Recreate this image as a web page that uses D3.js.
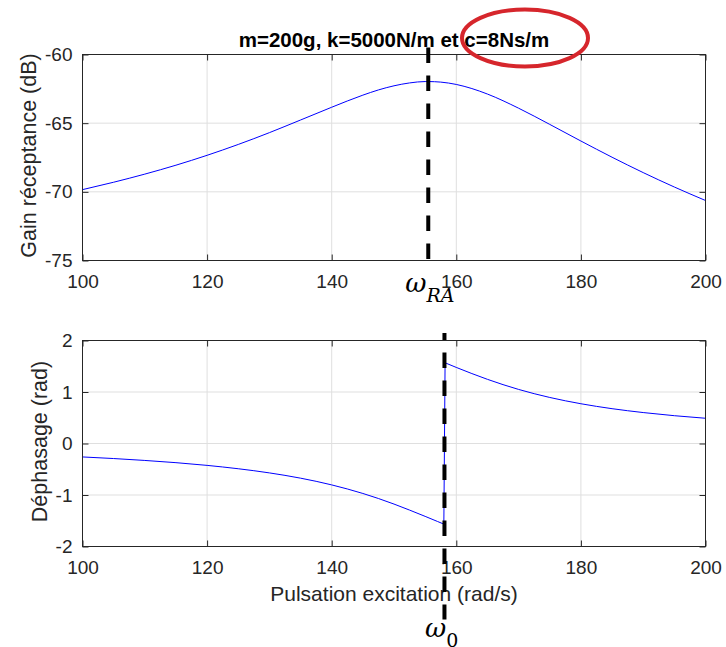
<!DOCTYPE html>
<html>
<head>
<meta charset="utf-8">
<script src="https://cdn.jsdelivr.net/npm/d3@7"></script>
<style>
  body { margin: 0; background: #fff; }
  text { font-family: "Liberation Sans", Arial, Helvetica, sans-serif; fill: #262626; }
  .math { font-family: "DejaVu Serif", "Liberation Serif", serif; fill: #000; }
</style>
</head>
<body>
<div id="figure"></div>
<script>
// valeurs
const pulsationsGain = [100, 105, 110, 115, 120, 125, 130, 135, 140, 145, 147.5, 150, 152.5, 155, 155.5, 157.5, 160, 162.5, 165, 170, 175, 180, 185, 190, 195, 200];
const gainDb = [-69.84, -69.30, -68.71, -68.06, -67.34, -66.55, -65.69, -64.77, -63.84, -62.96, -62.58, -62.28, -62.07, -61.97, -61.97, -62.01, -62.18, -62.48, -62.88, -63.91, -65.09, -66.30, -67.48, -68.60, -69.65, -70.63];

const pulsationsPhase = [100, 105, 110, 115, 120, 125, 130, 135, 140, 145, 150, 152.5, 155, 157, 158, 158.2, 160, 162.5, 165, 170, 175, 180, 185, 190, 195, 200];
const dephasage = [-0.261, -0.292, -0.329, -0.372, -0.425, -0.490, -0.571, -0.673, -0.804, -0.970, -1.176, -1.293, -1.415, -1.515, -1.565, 1.567, 1.477, 1.358, 1.246, 1.050, 0.894, 0.772, 0.676, 0.601, 0.540, 0.490];

const ticksX = [100, 120, 140, 160, 180, 200];
const ticksGain = [-75, -70, -65, -60];
const ticksPhase = [-2, -1, 0, 1, 2];

const omegaRA = 155.5;
const omega0 = 158.1;

const titre = "m=200g, k=5000N/m et c=8Ns/m";

const largeur = 726, hauteur = 647;

const svg = d3.select("#figure").append("svg")
    .attr("width", largeur)
    .attr("height", hauteur);

const x = d3.scaleLinear().domain([100, 200]).range([82.5, 705.5]);
const yGain = d3.scaleLinear().domain([-75, -60]).range([260.5, 54.5]);
const yPhase = d3.scaleLinear().domain([-2, 2]).range([546.5, 340.5]);

const fmt = d => String(d);

function dessinerAxes(y, ticksY) {
    const [bas, haut] = y.range();
    const [gauche, droite] = x.range();
    const g = svg.append("g");

    // grille
    g.append("g").selectAll("line")
        .data(ticksX.slice(1, -1))
        .join("line")
        .attr("x1", d => x(d)).attr("x2", d => x(d))
        .attr("y1", haut).attr("y2", bas)
        .attr("stroke", "#dfdfdf");
    g.append("g").selectAll("line")
        .data(ticksY.slice(1, -1))
        .join("line")
        .attr("x1", gauche).attr("x2", droite)
        .attr("y1", d => y(d)).attr("y2", d => y(d))
        .attr("stroke", "#dfdfdf");
    return g;
}

function finirAxes(y, ticksY) {
    const [bas, haut] = y.range();
    const [gauche, droite] = x.range();
    const g = svg.append("g");

    const axeBas = g.append("g")
        .attr("transform", "translate(0," + bas + ")")
        .call(d3.axisBottom(x).tickValues(ticksX).tickFormat(fmt).tickSizeInner(-6).tickSizeOuter(0).tickPadding(14));
    const axeHaut = g.append("g")
        .attr("transform", "translate(0," + haut + ")")
        .call(d3.axisTop(x).tickValues(ticksX).tickFormat("").tickSizeInner(-6).tickSizeOuter(0));
    const axeGauche = g.append("g")
        .attr("transform", "translate(" + gauche + ",0)")
        .call(d3.axisLeft(y).tickValues(ticksY).tickFormat(fmt).tickSizeInner(-6).tickSizeOuter(0).tickPadding(10));
    const axeDroit = g.append("g")
        .attr("transform", "translate(" + droite + ",0)")
        .call(d3.axisRight(y).tickValues(ticksY).tickFormat("").tickSizeInner(-6).tickSizeOuter(0));

    [axeBas, axeHaut, axeGauche, axeDroit].forEach(a => {
        a.select(".domain").remove();
        a.selectAll("line").attr("stroke", "#262626");
        a.selectAll("text")
            .style("font-size", "19px")
            .attr("fill", "#262626");
    });

    g.append("rect")
        .attr("x", gauche).attr("y", haut)
        .attr("width", droite - gauche).attr("height", bas - haut)
        .attr("fill", "none")
        .attr("stroke", "#262626")
        .attr("stroke-width", 1);
}

function ligneBleue(xs, ys, y) {
    const pts = xs.map((d, i) => [x(d), y(ys[i])]);
    svg.append("path")
        .attr("d", d3.line().curve(d3.curveMonotoneX)(pts))
        .attr("fill", "none")
        .attr("stroke", "#0000ff")
        .attr("stroke-width", 1);
}

// ---------- gain ----------
dessinerAxes(yGain, ticksGain);
ligneBleue(pulsationsGain, gainDb, yGain);
finirAxes(yGain, ticksGain);

// ---------- déphasage ----------
dessinerAxes(yPhase, ticksPhase);
// deux branches, reliées au saut en omega0
let iSaut = dephasage.findIndex((d, i) => i > 0 && d > 0 && dephasage[i - 1] < 0);
ligneBleue(pulsationsPhase.slice(0, iSaut), dephasage.slice(0, iSaut), yPhase);
ligneBleue(pulsationsPhase.slice(iSaut), dephasage.slice(iSaut), yPhase);
svg.append("line")
    .attr("x1", x(pulsationsPhase[iSaut - 1])).attr("y1", yPhase(dephasage[iSaut - 1]))
    .attr("x2", x(pulsationsPhase[iSaut])).attr("y2", yPhase(dephasage[iSaut]))
    .attr("stroke", "#0000ff")
    .attr("stroke-width", 1);
finirAxes(yPhase, ticksPhase);

// libellés
svg.append("text")
    .attr("x", (x.range()[0] + x.range()[1]) / 2)
    .attr("y", 46.5)
    .attr("text-anchor", "middle")
    .style("font-size", "20.5px")
    .style("font-weight", "bold")
    .attr("fill", "#000")
    .style("fill", "#000")
    .text(titre);

svg.append("text")
    .attr("x", (x.range()[0] + x.range()[1]) / 2)
    .attr("y", 600.5)
    .attr("text-anchor", "middle")
    .style("font-size", "21px")
    .text("Pulsation excitation (rad/s)");

svg.append("text")
    .attr("transform", "translate(35.5," + ((yGain.range()[0] + yGain.range()[1]) / 2 - 2) + ") rotate(-90)")
    .attr("text-anchor", "middle")
    .style("font-size", "21.5px")
    .text("Gain réceptance (dB)");

svg.append("text")
    .attr("transform", "translate(46.5," + ((yPhase.range()[0] + yPhase.range()[1]) / 2 - 2) + ") rotate(-90)")
    .attr("text-anchor", "middle")
    .style("font-size", "21.5px")
    .text("Déphasage (rad)");

// traits pointillés
svg.append("line")
    .attr("x1", x(omegaRA)).attr("x2", x(omegaRA))
    .attr("y1", yGain.range()[1] - 7).attr("y2", yGain.range()[0])
    .attr("stroke", "#000")
    .attr("stroke-width", 4)
    .attr("stroke-dasharray", "15.5,12.5");

svg.append("line")
    .attr("x1", x(omega0)).attr("x2", x(omega0))
    .attr("y1", yPhase.range()[1] - 7.5).attr("y2", yPhase.range()[0] + 73)
    .attr("stroke", "#000")
    .attr("stroke-width", 4)
    .attr("stroke-dasharray", "15.5,12.5")
    .attr("stroke-dashoffset", 8.5);

// omega_RA et omega_0
const tRA = svg.append("text")
    .attr("class", "math")
    .attr("x", x(omegaRA) - 23)
    .attr("y", 292);
tRA.append("tspan").style("font-size", "26px").style("font-style", "italic").text("ω");
tRA.append("tspan").style("font-size", "19px").style("font-style", "italic").attr("dy", 9.5).text("RA");

const t0 = svg.append("text")
    .attr("class", "math")
    .attr("x", x(omega0) - 19.5)
    .attr("y", 636.5);
t0.append("tspan").style("font-size", "26px").style("font-style", "italic").text("ω");
t0.append("tspan").style("font-size", "19px").attr("dy", 10).text("0");

// cercle rouge autour de c
svg.append("ellipse")
    .attr("cx", 525).attr("cy", 38)
    .attr("rx", 63).attr("ry", 28.5)
    .attr("fill", "none")
    .attr("stroke", "#d6262c")
    .attr("stroke-width", 4);
</script>
</body>
</html>
